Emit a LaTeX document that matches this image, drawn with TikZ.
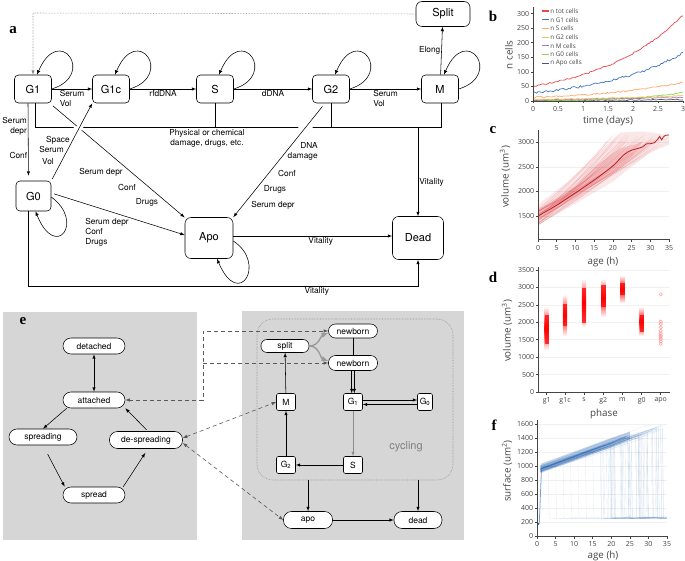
\documentclass[tikz,border=0pt]{standalone}
\usepackage{fontspec}
\setmainfont{TeX Gyre Heros}
\setsansfont{TeX Gyre Heros}
\newfontfamily\plotfont{Open Sans}
\newfontfamily\letterfont{Liberation Serif}
\usetikzlibrary{positioning,calc}
\definecolor{panelgray}{RGB}{214,214,214}
\definecolor{axisgray}{RGB}{68,68,68}
\definecolor{gridgray}{RGB}{240,240,240}
\definecolor{ntot}{RGB}{229,72,77}
\definecolor{ngone}{RGB}{66,116,188}
\definecolor{nsph}{RGB}{255,168,104}
\definecolor{ngtwo}{RGB}{236,196,88}
\definecolor{nmph}{RGB}{166,118,190}
\definecolor{ngzero}{RGB}{140,214,70}
\definecolor{napo}{RGB}{78,88,108}
\definecolor{volred}{RGB}{210,30,35}
\definecolor{surfblue}{RGB}{40,100,175}
\def\selfloop#1{\draw[->] (#1.east) .. controls +(45,-14) and +(22,-52) .. ([xshift=4pt]#1.north);}
\def\panelletter#1#2{\node[font=\letterfont\bfseries\fontsize{15}{15}\selectfont, inner sep=0pt] at (#1) {#2};}
\def\legendrow#1#2#3{
  \draw[#1, line width=1.1pt] (542,#2) -- (548.5,#2);
  \node[legendtext, anchor=west] at (549,#2) {#3};
}
\tikzset{>=latex,
  phase/.style={draw, rounded corners=4pt, minimum width=37pt, minimum height=28pt, inner sep=0pt, font=\fontsize{11}{12}\selectfont},
  lbl/.style={font=\fontsize{8.3}{9.8}\selectfont, inner sep=1pt, align=left},
  halo/.style={preaction={-, draw=white, line width=#1, shorten <=9pt, shorten >=9pt}},
  halo/.default=6pt,
  pill/.style={draw, fill=white, rounded corners=8pt, minimum height=16pt, inner sep=0pt, font=\fontsize{8.5}{9}\selectfont},
  cell/.style={draw, fill=white, rounded corners=2pt, minimum width=19pt, minimum height=17pt, inner sep=0pt, font=\fontsize{8.5}{9}\selectfont},
  link/.style={black!65, dash pattern=on 4pt off 3pt, line width=0.6pt},
  ticklbl/.style={font=\plotfont\fontsize{7}{8}\selectfont, text=axisgray, inner sep=1pt},
  axtitle/.style={font=\plotfont\fontsize{9.8}{11}\selectfont, text=axisgray},
  legendtext/.style={font=\plotfont\fontsize{6.3}{7}\selectfont, text=axisgray, inner sep=1pt},
  axisline/.style={axisgray, line width=0.6pt}
}
\begin{document}
\begin{tikzpicture}[x=1pt, y=-1pt, line width=0.55pt]
\useasboundingbox (0,0) rectangle (685,561);

% panel a
\panelletter{13,30}{a}
\node[phase] (G1) at (33,89) {G1};
\node[phase] (G1c) at (111,89) {G1c};
\node[phase] (S) at (215,89) {S};
\node[phase] (G2) at (331,89) {G2};
\node[phase] (M) at (440,89) {M};
\node[phase, minimum width=54pt, minimum height=25pt, rounded corners=6pt] (Split) at (443,14) {Split};
\node[phase, minimum width=35pt, minimum height=30pt] (G0) at (33.5,196) {G0};
\node[phase, minimum width=48pt, minimum height=41pt, rounded corners=6pt] (Apo) at (209,238) {Apo};
\node[phase, minimum width=51pt, minimum height=43pt, rounded corners=6pt] (Dead) at (418,238) {Dead};
\coordinate (busL) at (35,127);
\coordinate (busR) at (441,127);
\coordinate (corner) at (33,13);

\draw[densely dotted, black!50, ->] (Split.west) -- (corner) -- (G1.north);
\path[->] (G1) edge node[lbl, below] {Serum\\Vol} (G1c)
          (G1c) edge node[lbl, below] {rfdDNA} (S)
          (S) edge node[lbl, below] {dDNA} (G2)
          (G2) edge node[lbl, below] {Serum\\Vol} (M)
          (M) edge node[lbl, left] {Elong} (Split);
\selfloop{G1}
\selfloop{G1c}
\selfloop{S}
\selfloop{G2}
\selfloop{M}
\draw[->] ([yshift=-1pt]G0.east) .. controls +(34,25) and +(20,50) .. ([xshift=2pt]G0.south);
\draw[->] ([yshift=-3pt]Apo.east) .. controls +(34,22) and +(22,52) .. ([xshift=8pt]Apo.south);

\draw (G1.south -| busL) -- (busL) -- (busR) -- (M.south -| busR);
\draw (S) -- (S |- busL);
\draw (G2) -- (G2 |- busL);
\draw[->] (busL -| Dead) -- node[lbl, right, pos=0.62] {Vitality} (Dead);
\draw[->, shorten >=5pt] ([xshift=-5pt]G1.south) -- node[lbl, left, align=right, pos=0.3] {Serum\\depr} node[lbl, left, pos=0.68] {Conf} ([xshift=-5pt]G0.north);
\draw[->, halo, shorten <=4pt] (G1) -- (Apo);
\draw[->, halo, shorten <=2pt] (G0.north east) -- (G1c.south west);
\draw[->, halo=11pt, shorten <=4pt] ([xshift=-6pt]G2.south) -- (Apo.north east);
\draw[->, shorten <=3pt] ([yshift=3pt]G0.east) -- ([yshift=3pt]Apo.west);
\draw[->] ([yshift=2pt]Apo.east) -- node[lbl, below, pos=0.55] {Vitality} ([yshift=2pt]Dead.west);
\draw[->] ([xshift=-5pt]G0.south) -- ++(0,75) -| node[lbl, below, pos=0.37] {Vitality} (Dead.south);

\node[lbl, align=center, anchor=north] (damage) at (207,128) {Physical or chemical\\damage, drugs, etc.};
\node[lbl, anchor=east] at (71,140) {Space};
\node[lbl, anchor=east] at (65,149) {Serum};
\node[lbl, anchor=east] at (55,162) {Vol};
\node[lbl] at (101,172) {Serum depr};
\node[lbl] at (127,187) {Conf};
\node[lbl] at (147,202) {Drugs};
\node[lbl, anchor=north west] at (84,217) {Serum depr\\Conf\\Drugs};
\node[lbl, align=right, anchor=east] at (319,151) {DNA\\damage};
\node[lbl] at (287,173) {Conf};
\node[lbl] at (275,189) {Drugs};
\node[lbl] at (273,205) {Serum depr};

% panel e
\fill[panelgray] (3,312) rectangle (197,540);
\fill[panelgray] (242,311) rectangle (464,540);
\panelletter{23,321}{e}
\node[pill, minimum width=62pt] (detached) at (94,346) {detached};
\node[pill, minimum width=62pt] (attached) at (94,400) {attached};
\node[pill, minimum width=68pt] (spreading) at (43,437) {spreading};
\node[pill, minimum width=73pt, minimum height=17pt] (despreading) at (146,440) {de-spreading};
\node[pill, minimum width=62pt] (spread) at (94,495) {spread};
\draw[<->] (detached) -- (attached);
\draw[->] ([xshift=4pt]attached.south west) -- (spreading.north);
\draw[->, shorten <=10pt] (spreading.south) -- ([xshift=2pt]spread.north west);
\draw[->, shorten >=5pt] ([xshift=-2pt]spread.north east) -- ([xshift=2pt]despreading.south);
\draw[->, shorten <=2pt] ([xshift=2pt]despreading.north) -- (attached.south east);

\node[draw=black!45, densely dotted, rounded corners=16pt, minimum width=196pt, minimum height=161pt] (cyclebox) at (355,399.5) {};
\node[font=\fontsize{11}{12}\selectfont, text=black!50] at (406,447) {cycling};
\node[pill, minimum width=49pt, minimum height=14pt, rounded corners=7pt] (newbornA) at (353,331) {newborn};
\node[pill, minimum width=49pt, minimum height=15pt, rounded corners=7pt] (newbornB) at (353,363) {newborn};
\node[pill, minimum width=48pt, minimum height=13pt, rounded corners=6pt] (split) at (285,346) {split};
\node[cell] (cG1) at (353,402) {G\textsubscript{1}};
\node[cell, minimum width=15pt] (cG0) at (425,402) {G\textsubscript{0}};
\node[cell] (cM) at (286,402) {M};
\node[cell] (cS) at (353,465) {S};
\node[cell] (cG2) at (286,465) {G\textsubscript{2}};
\node[pill, minimum width=49pt, minimum height=17pt] (apo) at (308,520) {apo};
\node[pill, minimum width=48pt, minimum height=17pt] (dead) at (418,520) {dead};
\draw (newbornA) -- (newbornB);
\draw[->] ([xshift=-1.3pt]newbornB.south) -- ([xshift=-1.3pt]cG1.north);
\draw[->] ([xshift=1.3pt]newbornB.south) -- ([xshift=1.3pt]cG1.north);
\draw[->] ([yshift=2pt]cG1.east) -- ([yshift=2pt]cG0.west);
\draw[<-] ([yshift=-2.5pt]cG1.east) -- ([yshift=-2.5pt]cG0.west);
\path[->] (cG1) edge[black!45] (cS)
          (cS) edge (cG2)
          (cG2) edge (cM)
          (cM) edge (split)
          (apo) edge (dead);
\draw[->, black!40, line width=1.3pt] (split.east) .. controls +(10,0) and +(-8,3) .. ([yshift=-2pt]newbornA.west);
\draw[->, black!40, line width=1.3pt] (split.east) .. controls +(10,0) and +(-8,-3) .. ([yshift=2pt]newbornB.west);
\draw[->] (cyclebox.south -| apo.north) -- (apo);
\draw[->] (cyclebox.south -| dead.north) -- (dead);

\coordinate (hub) at (203,363);
\draw[link, <->] (attached.east) -| (hub) |- (newbornA.west);
\draw[link, ->] (hub) -- (newbornB.west);
\draw[link, <->] ([yshift=2pt]despreading.east) -- (cM.west);
\draw[link, <->] ([yshift=-3pt]despreading.east) -- (apo.west);

% panel b
\panelletter{493,16}{b}
\begin{scope}[shift={(533,101)}, x=50pt, y=0.2913pt]
  \pgfmathsetseed{7}
  \draw[napo, line width=0.7pt] plot[domain=0:3, samples=90] (\x, {max(0, 1.5+1.5*rand+\x)});
  \draw[ngzero, line width=0.7pt] plot[domain=0:3, samples=90] (\x, {max(0, 2+27*(\x/3)^3+2*rand)});
  \draw[nmph, line width=0.7pt] plot[domain=0:3, samples=90] (\x, {max(0, 3+3*\x+2*rand)});
  \draw[ngtwo, line width=0.7pt] plot[domain=0:3, samples=90] (\x, {5+13*(\x/3)^1.5+2*rand});
  \draw[nsph, line width=0.7pt] plot[domain=0:3, samples=90] (\x, {12*exp(0.563*\x)+2.5*rand});
  \draw[ngone, line width=0.7pt] plot[domain=0:3, samples=90] (\x, {28*exp(0.591*\x)+4*rand});
  \draw[ntot, line width=0.7pt] plot[domain=0:3, samples=90] (\x, {50*exp(0.592*\x)+3*rand});
  \draw[axisline] (0,322) -- (0,0) -- (3,0);
  \foreach \t in {0,0.5,1,1.5,2,2.5,3} {
    \draw[axisline] (\t,0) -- ++(0,-2.5pt);
    \node[ticklbl, anchor=north, yshift=-4pt] at (\t,0) {\t};
  }
  \foreach \n in {0,50,...,300} {
    \draw[axisline] (0,\n) -- ++(-2.5pt,0);
    \node[ticklbl, anchor=east, xshift=-2.5pt] at (0,\n) {\n};
  }
\end{scope}
\legendrow{ntot}{11}{n tot cells}
\legendrow{ngone}{19.7}{n G1 cells}
\legendrow{nsph}{28.4}{n S cells}
\legendrow{ngtwo}{37.1}{n G2 cells}
\legendrow{nmph}{45.8}{n M cells}
\legendrow{ngzero}{54.5}{n G0 cells}
\legendrow{napo}{63.2}{n Apo cells}
\node[axtitle] at (608,121) {time (days)};
\node[axtitle, rotate=90] at (509,55) {n cells};

% panel c
\panelletter{493,130}{c}
\begin{scope}[shift={(538,216)}, x=3.743pt, y=0.04913pt]
  \foreach \v in {0,500,1000,1500} \draw[gridgray] (0,\v) -- (35,\v);
  \begin{scope}
    \clip (0,-470) rectangle (35,1800);
    \fill[volred, opacity=0.1] (0,-180) -- (10,250) -- (20,700) -- (25,1000) -- (30,1300) -- (35,1450) -- (35,1650) -- (28,1720) -- (22,1700) -- (15,1200) -- (8,700) -- (0,230) -- cycle;
    \fill[volred, opacity=0.14] (0,-90) -- (10,380) -- (20,880) -- (25,1200) -- (28,1500) -- (22,1380) -- (15,1000) -- (10,620) -- (0,100) -- cycle;
    \pgfmathsetseed{11}
    \foreach \i in {1,...,80} {
      \pgfmathsetmacro\vz{-20+170*rand}
      \pgfmathsetmacro\te{26+8*rand}
      \pgfmathsetmacro\ve{1480+180*rand}
      \draw[volred, opacity=0.1, line width=0.35pt] (0,\vz) .. controls ({\te*0.4},{\vz+(\ve-\vz)*0.33}) and ({\te*0.75},{\vz+(\ve-\vz)*0.7}) .. (\te,\ve);
    }
  \end{scope}
  \draw[volred!90!black, line width=0.8pt] plot[smooth] coordinates {(0,0) (5,220) (10,470) (15,730) (20,1020) (23,1250) (25,1340) (27,1380) (28,1410) (29,1470) (30,1470) (31,1490) (32,1560) (32.5,1620) (33,1550) (33.5,1610) (34,1640) (35,1650)};
  \draw[axisline] (0,1750) -- (0,-470) -- (35,-470);
  \foreach \a in {0,5,...,35} {
    \draw[axisline] (\a,-470) -- ++(0,-2.5pt);
    \node[ticklbl, anchor=north, yshift=-5pt] at (\a,-470) {\a};
  }
  \foreach \v/\lab in {0/1500,500/2000,1000/2500,1500/3000} {
    \draw[axisline] (0,\v) -- ++(-2.5pt,0);
    \node[ticklbl, anchor=east, xshift=-2.5pt] at (0,\v) {\lab};
  }
\end{scope}
\node[axtitle] at (603,262) {age (h)};
\node[axtitle, rotate=90] at (505,177) {volume (um\textsuperscript{3})};

% panel d
\panelletter{493,277}{d}
\begin{scope}[shift={(538,392)}, x=1pt, y=0.03486pt]
  \foreach \v in {500,1000,...,3500} \draw[gridgray] (0,\v) -- (132,\v);
  \foreach \cx/\lo/\hi/\ca/\cb in {8.7/1200/2450/1300/2300, 27/1600/2800/1800/2600, 46/1850/3250/1900/3050, 65.3/2150/3250/2350/3150, 84.3/2550/3350/2700/3200, 103.7/1600/2450/1650/2300} {
    \shade[top color=white, bottom color=white, middle color=red] (\cx-2.2,\lo) rectangle (\cx+2.2,\hi);
    \fill[red, opacity=0.75] (\cx-2.2,{\ca+80}) rectangle (\cx+2.2,{\cb-80});
  }
  \foreach \v in {1380,1450,1520,1580,1620,1680,1750,1850,1950,2020,2800} \draw[red!40, line width=0.5pt] (122.7,\v) circle (1.7pt);
  \draw[axisline] (0,3580) -- (0,0) -- (132,0);
  \foreach \v in {0,500,...,3500} {
    \draw[axisline] (0,\v) -- ++(-2.5pt,0);
    \node[ticklbl, anchor=east, xshift=-2.5pt] at (0,\v) {\v};
  }
  \foreach \cx/\lab in {8.7/g1,27/g1c,46/s,65.3/g2,84.3/m,103.7/g0,122.7/apo} {
    \draw[axisline] (\cx,0) -- ++(0,-2.5pt);
    \node[ticklbl, anchor=north, yshift=-4pt] at (\cx,0) {\lab};
  }
\end{scope}
\node[axtitle] at (604,414) {phase};
\node[axtitle, rotate=90] at (507,331) {volume (um\textsuperscript{3})};

% panel f
\panelletter{494,425}{f}
\begin{scope}[shift={(537,536)}, x=3.714pt, y=0.07pt]
  \foreach \v in {200,400,...,1600} \draw[gridgray] (0,\v) -- (35,\v);
  \begin{scope}
    \clip (0,0) rectangle (35,1650);
    \fill[surfblue, opacity=0.3] (1,900) -- (20,1270) -- (25,1380) -- (25,1490) -- (20,1400) -- (1,1030) -- cycle;
    \pgfmathsetseed{5}
    \foreach \i in {1,...,60} {
      \pgfmathsetmacro\tdiv{25.5+8.5*rand}
      \pgfmathsetmacro\vst{960+45*rand}
      \pgfmathsetmacro\vtop{min(1580,\vst+18*\tdiv+60*rand)}
      \pgfmathsetmacro\tfin{\tdiv+1+8*rnd}
      \draw[surfblue, opacity=0.13, line width=0.35pt] (0.9,\vst) -- (\tdiv,\vtop) -- ({\tdiv+0.3},250) -- (\tfin,{255+20*rnd});
    }
    \foreach \tdiv in {3,5,7,9,11,13,15,17} {
      \draw[surfblue, opacity=0.12, line width=0.35pt] (0.9,950) -- (\tdiv,{950+18*\tdiv}) -- ({\tdiv+0.3},250) -- ({\tdiv+8},260);
    }
    \draw[surfblue, opacity=0.55, line width=1pt] (1,960) -- (20,1330) -- (24,1420);
    \draw[surfblue, line width=1.4pt] (0,170) -- (0.6,170);
    \draw[surfblue, opacity=0.6, line width=0.8pt] (0.6,170) -- (1.2,950);
  \end{scope}
  \draw[axisline] (0,1650) -- (0,0) -- (35,0);
  \foreach \a in {0,5,...,35} {
    \draw[axisline] (\a,0) -- ++(0,-2.5pt);
    \node[ticklbl, anchor=north, yshift=-4pt] at (\a,0) {\a};
  }
  \foreach \v in {0,200,...,1600} {
    \draw[axisline] (0,\v) -- ++(-2.5pt,0);
    \node[ticklbl, anchor=east, xshift=-2.5pt] at (0,\v) {\v};
  }
\end{scope}
\node[axtitle] at (603,556) {age (h)};
\node[axtitle, rotate=90] at (507,471) {surface (um\textsuperscript{2})};
\end{tikzpicture}
\end{document}
